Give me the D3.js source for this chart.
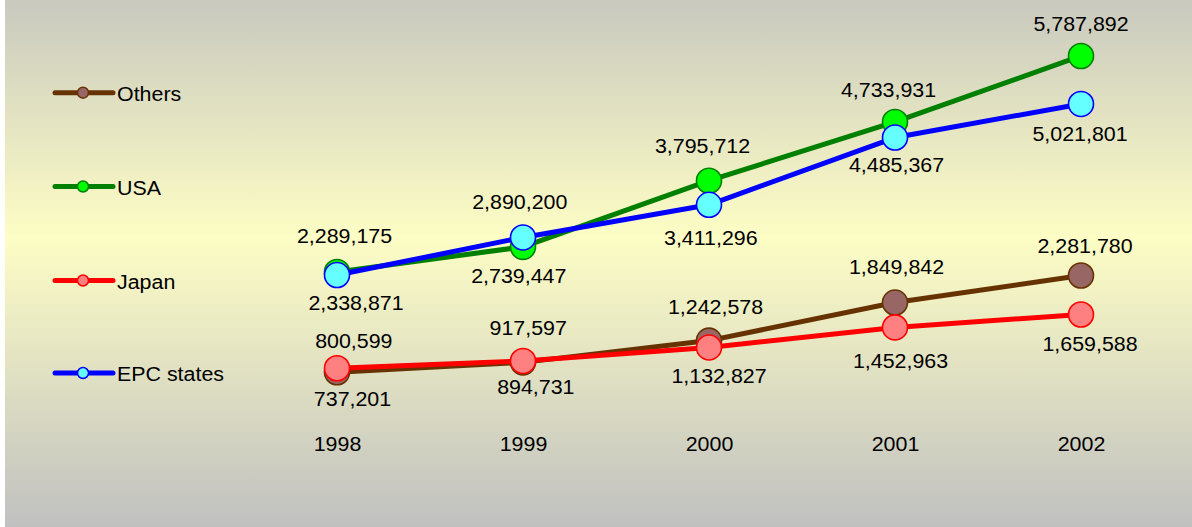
<!DOCTYPE html>
<html>
<head>
<meta charset="utf-8">
<script src="https://cdn.jsdelivr.net/npm/d3@7"></script>
<style>
  html, body { margin: 0; padding: 0; background: #ffffff; }
  svg { display: block; }
  text { font-family: "Liberation Sans", Arial, sans-serif; fill: #000; }
</style>
</head>
<body>
<svg id="chart" width="1192" height="527"></svg>
<script>
// ---- data ----
const years = ["1998", "1999", "2000", "2001", "2002"];
const epcStates = [2289175, 2890200, 3411296, 4485367, 5021801];
const usa = [2338871, 2739447, 3795712, 4733931, 5787892];
const japan = [800599, 917597, 1132827, 1452963, 1659588];
const others = [737201, 894731, 1242578, 1849842, 2281780];
const seriesNames = ["Others", "USA", "Japan", "EPC states"];

// ---- styling / layout config ----
const styles = {
  "Others":     { line: "#663300", fill: "#996666", stroke: "#663300", values: others,
                  side: ["below", "below", "above", "above", "above"],
                  nudge: [[15.5, -4.7], [12.8, -6.6], [6.5, -1.8], [1.5, -3.8], [4, 2.3]] },
  "USA":        { line: "#008000", fill: "#00ff00", stroke: "#008000", values: usa,
                  side: ["below", "below", "above", "above", "above"],
                  nudge: [[19, 0], [-4.2, -2.7], [-6.5, -3.5], [-6.5, -0.8], [0, -0.8]] },
  "Japan":      { line: "#ff0000", fill: "#ff8080", stroke: "#ff0000", values: japan,
                  side: ["above", "above", "below", "below", "below"],
                  nudge: [[16.8, 4.5], [5.2, -1.4], [10, -3.3], [5.5, 2.4], [9, -2]] },
  "EPC states": { line: "#0000ff", fill: "#66ffff", stroke: "#0000ff", values: epcStates,
                  side: ["above", "above", "below", "below", "below"],
                  nudge: [[7.5, -7.3], [-3.2, -3.6], [1.8, 1.7], [1.5, -3.7], [-1, -1.4]] }
};
const TEXT_SX = 1.07;

const svg = d3.select("#chart");
const W = 1192, H = 527;

// background gradient
const defs = svg.append("defs");
const grad = defs.append("linearGradient").attr("id", "bg")
  .attr("x1", 0).attr("y1", 0).attr("x2", 0).attr("y2", 1);
grad.append("stop").attr("offset", "0%").attr("stop-color", "#c9c9bf");
grad.append("stop").attr("offset", "45%").attr("stop-color", "#fdfdc5");
grad.append("stop").attr("offset", "100%").attr("stop-color", "#c0c0c0");
svg.append("rect").attr("x", 5).attr("y", 0).attr("width", W - 5).attr("height", H)
  .attr("fill", "url(#bg)");

// scales
const x = d3.scalePoint().domain(years).range([337, 1081]);
const y = d3.scaleLinear().domain([0, 6000000]).range([418.4, 42.7]);
const fmt = d3.format(",");

// x axis (labels only)
const xAxis = d3.axisBottom(x).tickSize(0).tickPadding(0);
const gx = svg.append("g").attr("transform", "translate(0,451)").call(xAxis);
gx.select(".domain").remove();
gx.selectAll("text").attr("dy", 0).attr("y", 0)
  .attr("transform", `scale(${TEXT_SX},1)`)
  .style("font-size", "20px").style("font-family", "'Liberation Sans', Arial, sans-serif")
  .attr("fill", "#000");

const line = d3.line().x((d, i) => x(years[i])).y(d => y(d));

// draw series
seriesNames.forEach(name => {
  const s = styles[name];
  const g = svg.append("g");
  g.append("path").datum(s.values).attr("d", line)
    .attr("fill", "none").attr("stroke", s.line).attr("stroke-width", 5)
    .attr("stroke-linejoin", "round");
  g.selectAll("circle").data(s.values).join("circle")
    .attr("cx", (d, i) => x(years[i])).attr("cy", d => y(d)).attr("r", 12.5)
    .attr("fill", s.fill).attr("stroke", s.stroke).attr("stroke-width", 1.6);
});

// labels
seriesNames.forEach(name => {
  const s = styles[name];
  svg.append("g").selectAll("text").data(s.values).join("text")
    .attr("transform", (d, i) => {
      const tx = x(years[i]) + s.nudge[i][0];
      const ty = y(d) + (s.side[i] === "above" ? -24.5 : 38.5) + s.nudge[i][1];
      return `translate(${tx},${ty}) scale(${TEXT_SX},1)`;
    })
    .attr("text-anchor", "middle").style("font-size", "20px")
    .text(d => fmt(d));
});

// legend (top to bottom)
const legendY = [92.7, 186.5, 280.5, 373];
seriesNames.forEach((name, i) => {
  const s = styles[name];
  const g = svg.append("g").attr("transform", `translate(0,${legendY[i]})`);
  g.append("line").attr("x1", 55).attr("x2", 113).attr("y1", 0).attr("y2", 0)
    .attr("stroke", s.line).attr("stroke-width", 5).attr("stroke-linecap", "round");
  g.append("circle").attr("cx", 83).attr("cy", 0).attr("r", 5.5)
    .attr("fill", s.fill).attr("stroke", s.stroke).attr("stroke-width", 1.5);
  g.append("text").attr("transform", `translate(117,8) scale(${TEXT_SX},1)`)
    .style("font-size", "20px").text(name);
});
</script>
</body>
</html>
